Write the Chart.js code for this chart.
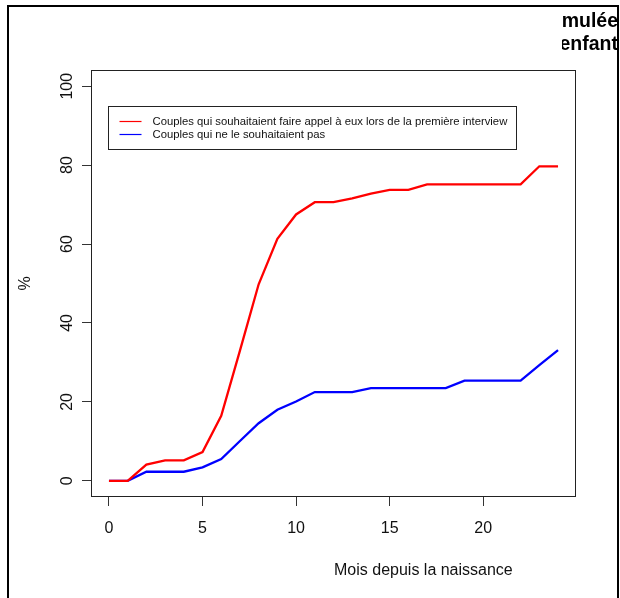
<!DOCTYPE html>
<html>
<head>
<meta charset="utf-8">
<script src="https://cdn.jsdelivr.net/npm/chart.js@4.4.1/dist/chart.umd.min.js"></script>
<style>
  body { margin: 0; background: #fff; width: 620px; height: 598px; overflow: hidden; position: relative; font-family: Arial, "Liberation Sans", sans-serif; }
  canvas { position: absolute; left: 0; top: 0; }
  #cadre { position: absolute; left: 7px; top: 5px; width: 608px; height: 700px; border: 2px solid #000; }
  #titre { position: absolute; left: 562px; top: 0; width: 56px; height: 60px; overflow: hidden; font-weight: bold; font-size: 19.5px; color: #000; }
  #titre div { position: absolute; right: 0; white-space: nowrap; line-height: 23px; }
  #xtitre { position: absolute; left: 334px; top: 562px; font-size: 16px; line-height: 16px; color: #111; white-space: nowrap; }
</style>
</head>
<body>
<canvas id="graphe" width="620" height="598"></canvas>
<div id="titre"><div style="top:9px">mulée</div><div style="top:32px">enfant</div></div>
<div id="xtitre">Mois depuis la naissance</div>
<div id="cadre"></div>
<script>
// mois depuis la naissance
const mois = [0, 1, 2, 3, 4, 5, 6, 7, 8, 9, 10, 11, 12, 13, 14, 15, 16, 17, 18, 19, 20, 21, 22, 23, 24];
// % cumulé
const souhaitaient = [0, 0, 4.1, 5.2, 5.2, 7.3, 16.5, 33, 49.8, 61.3, 67.5, 70.6, 70.6, 71.6, 72.8, 73.7, 73.7, 75.1, 75.1, 75.1, 75.1, 75.1, 75.1, 79.7, 79.7];
const neSouhaitaientPas = [0, 0, 2.3, 2.3, 2.3, 3.4, 5.5, 10.1, 14.6, 18.0, 20.1, 22.5, 22.5, 22.5, 23.5, 23.5, 23.5, 23.5, 23.5, 25.4, 25.4, 25.4, 25.4, 29.3, 33.1];
const libelles = ['Couples qui souhaitaient faire appel à eux lors de la première interview', 'Couples qui ne le souhaitaient pas'];
const couleurs = ['#ff0000', '#0000ff'];
const ticksX = [0, 5, 10, 15, 20];
const ticksY = [0, 20, 40, 60, 80, 100];

const police = 'Arial, "Liberation Sans", sans-serif';

// cadre du graphique + legende dans la zone
const cadrePlot = {
  id: 'cadrePlot',
  afterDraw(chart) {
    const { ctx, chartArea: a } = chart;
    ctx.save();
    ctx.strokeStyle = '#222';
    ctx.lineWidth = 1;
    ctx.strokeRect(a.left + 0.5, a.top + 0.5, a.right - a.left - 1, a.bottom - a.top - 1);

    const lx = a.left + 17.5, ly = a.top + 36.5;
    ctx.strokeRect(lx, ly, 408, 43);
    ctx.font = '11.3px ' + police;
    ctx.textBaseline = 'middle';
    chart.data.datasets.forEach((ds, i) => {
      const y = Math.round(ly + 14 + i * 13.6) + 0.5;
      ctx.strokeStyle = couleurs[i];
      ctx.lineWidth = 1.2;
      ctx.beginPath();
      ctx.moveTo(lx + 11, y);
      ctx.lineTo(lx + 33, y);
      ctx.stroke();
      ctx.fillStyle = '#111';
      ctx.fillText(ds.label, lx + 44, y);
    });
    ctx.restore();
  }
};

const grille = { drawOnChartArea: false, drawTicks: true, tickLength: 9, color: '#333', lineWidth: 1 };

new Chart(document.getElementById('graphe'), {
  type: 'line',
  data: {
    datasets: [{
      label: libelles[0],
      data: mois.map((m, i) => ({ x: m, y: souhaitaient[i] })),
      borderColor: couleurs[0],
      borderWidth: 2.3,
      pointRadius: 0,
      tension: 0
    }, {
      label: libelles[1],
      data: mois.map((m, i) => ({ x: m, y: neSouhaitaientPas[i] })),
      borderColor: couleurs[1],
      borderWidth: 2.3,
      pointRadius: 0,
      tension: 0
    }]
  },
  options: {
    responsive: false,
    animation: false,
    layout: { padding: { top: 70, right: 44, left: 0, bottom: 0 } },
    plugins: {
      legend: { display: false },
      tooltip: { enabled: false }
    },
    scales: {
      x: {
        type: 'linear',
        min: -0.96,
        max: 24.96,
        afterBuildTicks: s => { s.ticks = ticksX.map(v => ({ value: v })); },
        afterFit: s => { s.height = 101; },
        grid: grille,
        border: { display: false },
        ticks: { color: '#111', font: { size: 16, family: police }, padding: 13, maxRotation: 0, autoSkip: false }
      },
      y: {
        min: -4.1,
        max: 104.1,
        afterBuildTicks: s => { s.ticks = ticksY.map(v => ({ value: v })); },
        afterFit: s => { s.width = 91; },
        grid: grille,
        border: { display: false },
        ticks: { color: '#111', font: { size: 16, family: police }, minRotation: 90, maxRotation: 90, crossAlign: 'center', padding: 1, autoSkip: false },
        title: { display: true, text: '%', color: '#111', font: { size: 16, family: police }, padding: { top: 16 } }
      }
    }
  },
  plugins: [cadrePlot]
});
</script>
</body>
</html>
